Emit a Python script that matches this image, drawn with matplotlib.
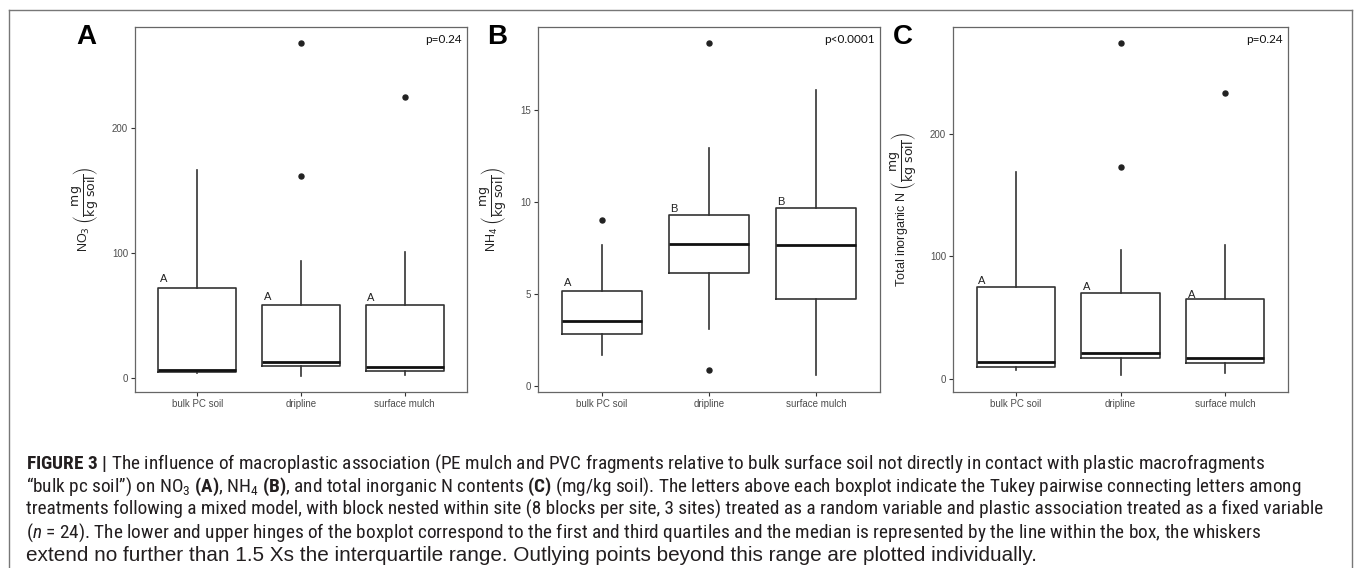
import matplotlib
matplotlib.use('Agg')
import matplotlib.pyplot as plt
from matplotlib import font_manager as fm
from matplotlib.lines import Line2D

# ---------------- data ----------------
categories = ['bulk PC soil', 'dripline', 'surface mulch']

# Panel A: NO3
no3_whislo = [4, 2, 3]
no3_q1 = [5, 10, 6]
no3_med = [7, 13, 9]
no3_q3 = [72, 59, 59]
no3_whishi = [167, 94, 101]
no3_fliers = [[], [268, 162], [225]]
no3_letters = ['A', 'A', 'A']
no3_letter_y = [79, 65, 64]
no3_p = 'p=0.24'
no3_yticks = [0, 100, 200]

# Panel B: NH4
nh4_whislo = [1.68, 3.1, 0.6]
nh4_q1 = [2.83, 6.14, 4.73]
nh4_med = [3.53, 7.72, 7.66]
nh4_q3 = [5.16, 9.29, 9.67]
nh4_whishi = [7.66, 12.93, 16.08]
nh4_fliers = [[9.0], [18.64, 0.87], []]
nh4_letters = ['A', 'B', 'B']
nh4_letter_y = [5.6, 9.62, 10.0]
nh4_p = 'p<0.0001'
nh4_yticks = [0, 5, 10, 15]

# Panel C: total inorganic N
tin_whislo = [7, 3, 5]
tin_q1 = [10, 17, 13]
tin_med = [14, 21, 17]
tin_q3 = [75, 70, 65]
tin_whishi = [169, 105, 109]
tin_fliers = [[], [274, 173], [233]]
tin_letters = ['A', 'A', 'A']
tin_letter_y = [80, 75, 68.6]
tin_p = 'p=0.24'
tin_yticks = [0, 100, 200]

panel_labels = ['A', 'B', 'C']
ylabels = [r'NO$_3$ $\left(\dfrac{\mathrm{mg}}{\mathrm{kg\ soil}}\right)$',
           r'NH$_4$ $\left(\dfrac{\mathrm{mg}}{\mathrm{kg\ soil}}\right)$',
           r'Total inorganic N $\left(\dfrac{\mathrm{mg}}{\mathrm{kg\ soil}}\right)$']

caption_lines = [
    r'$\mathbf{FIGURE\ 3\ |}$ The influence of macroplastic association (PE mulch and PVC fragments relative to bulk surface soil not directly in contact with plastic macrofragments',
    r'“bulk pc soil”) on NO$_3$ $\mathbf{(A)}$, NH$_4$ $\mathbf{(B)}$, and total inorganic N contents $\mathbf{(C)}$ (mg/kg soil). The letters above each boxplot indicate the Tukey pairwise connecting letters among',
    r'treatments following a mixed model, with block nested within site (8 blocks per site, 3 sites) treated as a random variable and plastic association treated as a fixed variable',
    r'($\mathit{n}$ = 24). The lower and upper hinges of the boxplot correspond to the first and third quartiles and the median is represented by the line within the box, the whiskers',
    r'extend no further than 1.5 Xs the interquartile range. Outlying points beyond this range are plotted individually.',
]

# ---------------- fonts ----------------
names = {f.name for f in fm.fontManager.ttflist}
def pick(cands, default='DejaVu Sans'):
    for c in cands:
        if c in names:
            return c
    return default

sans = pick(['Liberation Sans', 'Arial', 'DejaVu Sans'])
narrow = pick(['Liberation Sans Narrow', 'Roboto Condensed', 'Open Sans Condensed', 'Roboto', 'Liberation Sans'])
pfont = pick(['Lato', 'Open Sans', 'Liberation Sans'])

plt.rcParams['font.family'] = [sans, 'DejaVu Sans']
plt.rcParams['mathtext.fontset'] = 'custom'
plt.rcParams['mathtext.rm'] = narrow
plt.rcParams['mathtext.it'] = narrow + ':italic'
plt.rcParams['mathtext.bf'] = narrow + ':bold'

W, H = 1357, 568
fig = plt.figure(figsize=(W / 100, H / 100), dpi=100)

# frame around figure
fc = '#777777'
fig.add_artist(Line2D([9 / W, 1352 / W], [1 - 10 / H, 1 - 10 / H], color=fc, lw=1.0, transform=fig.transFigure))
fig.add_artist(Line2D([9 / W, 9 / W], [1 - 10 / H, 0], color=fc, lw=1.0, transform=fig.transFigure))
fig.add_artist(Line2D([1352 / W, 1352 / W], [1 - 10 / H, 0], color=fc, lw=1.0, transform=fig.transFigure))

panels = [
    dict(whislo=no3_whislo, q1=no3_q1, med=no3_med, q3=no3_q3, whishi=no3_whishi, fliers=no3_fliers,
         letters=no3_letters, letter_y=no3_letter_y, p=no3_p, yticks=no3_yticks, ylim=(-11, 281),
         box=(135, 467), label_x=86),
    dict(whislo=nh4_whislo, q1=nh4_q1, med=nh4_med, q3=nh4_q3, whishi=nh4_whishi, fliers=nh4_fliers,
         letters=nh4_letters, letter_y=nh4_letter_y, p=nh4_p, yticks=nh4_yticks, ylim=(-0.33, 19.5),
         box=(538, 880), label_x=497),
    dict(whislo=tin_whislo, q1=tin_q1, med=tin_med, q3=tin_q3, whishi=tin_whishi, fliers=tin_fliers,
         letters=tin_letters, letter_y=tin_letter_y, p=tin_p, yticks=tin_yticks, ylim=(-10.6, 287),
         box=(953, 1288), label_x=903),
]

top_px, bot_px = 27, 392
line_c = '#333333'
for i, pn in enumerate(panels):
    x0, x1 = pn['box']
    ax = fig.add_axes([x0 / W, 1 - bot_px / H, (x1 - x0) / W, (bot_px - top_px) / H])
    stats = []
    for j, cat in enumerate(categories):
        stats.append(dict(med=pn['med'][j], q1=pn['q1'][j], q3=pn['q3'][j],
                          whislo=pn['whislo'][j], whishi=pn['whishi'][j],
                          fliers=pn['fliers'][j], label=cat))
    ax.bxp(stats, positions=[1, 2, 3], widths=0.75, showcaps=False, patch_artist=False,
           boxprops=dict(color=line_c, lw=1.2),
           whiskerprops=dict(color=line_c, lw=1.2),
           medianprops=dict(color='#111111', lw=2.0),
           flierprops=dict(marker='o', markersize=3.6, markerfacecolor='#222222',
                           markeredgecolor='#222222', linestyle='none'))
    ax.set_xlim(0.4, 3.6)
    ax.set_ylim(*pn['ylim'])
    ax.set_yticks(pn['yticks'])
    ax.set_xticks([1, 2, 3])
    ax.set_xticklabels(categories)
    ax.tick_params(axis='both', direction='out', length=3, width=0.8, color='#333333',
                   labelsize=7, labelcolor='#4d4d4d', pad=2)
    for s in ax.spines.values():
        s.set_color('#666666')
        s.set_linewidth(0.9)
    for j in range(3):
        ax.text(j + 1 - 0.36, pn['letter_y'][j], pn['letters'][j], ha='left', va='center',
                fontsize=8, color='#222222')
    ax.text(0.985, 0.967, pn['p'], transform=ax.transAxes, ha='right', va='center',
            fontsize=8.5, family=pfont, color='#111111')
    ax.set_ylabel(ylabels[i], fontsize=9, color='#222222', labelpad=8, math_fontfamily='dejavusans')
    fig.text(pn['label_x'] / W, 1 - 37 / H, panel_labels[i], ha='center', va='center',
             fontsize=20, fontweight='bold', color='black')

# ---------------- caption ----------------
cap_color = '#231f20'
baselines = [469, 492, 515, 538, 561]
cap_texts = []
for k, line in enumerate(caption_lines):
    fam = narrow if k < 4 else sans
    t = fig.text(26 / W, 1 - baselines[k] / H, line, ha='left', va='baseline',
                 fontsize=13, family=fam, color=cap_color)
    cap_texts.append(t)

fig.canvas.draw()
r = fig.canvas.get_renderer()
wmax = max(t.get_window_extent(renderer=r).width for t in cap_texts[:4])
s = 13 * (1322 - 26) / wmax
for t in cap_texts[:4]:
    t.set_fontsize(s)
w5 = cap_texts[4].get_window_extent(renderer=r).width
cap_texts[4].set_fontsize(13 * (1037 - 26) / w5)

fig.savefig('out.png', dpi=100)
